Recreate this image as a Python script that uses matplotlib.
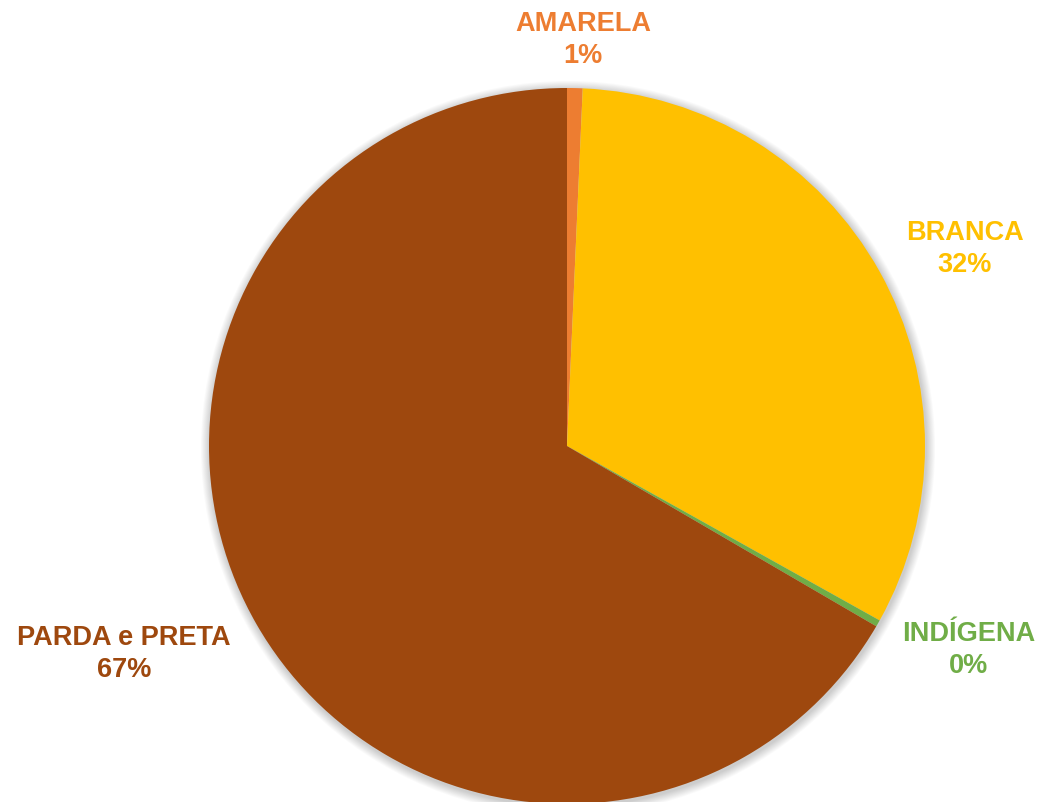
import matplotlib
matplotlib.use("Agg")
import matplotlib.pyplot as plt
from matplotlib.patches import Circle

categories = ["AMARELA", "BRANCA", "INDÍGENA", "PARDA e PRETA"]
shares = [0.7, 32.4, 0.3, 66.6]
colors = ["#ED7D31", "#FFC000", "#70AD47", "#9E480E"]
# label anchor points in pixel space (x, y from top)
label_pos = [(583, 40), (965, 249), (969, 650), (124, 654)]

W, H = 1038, 802
plt.rcParams["font.family"] = ["Liberation Sans", "DejaVu Sans"]
fig = plt.figure(figsize=(W / 100, H / 100), dpi=100)
ax = fig.add_axes([0, 0, 1, 1])

cx, cy, r = 567, H - 446, 358

# soft shadow under the pie
for i in range(10):
    ax.add_patch(Circle((cx + 1, cy - 2), r + 1 + i * 0.9, color="black",
                        alpha=0.018, lw=0, zorder=0))

ax.pie(shares, colors=colors, startangle=90, counterclock=False,
       center=(cx, cy), radius=r, frame=True,
       wedgeprops=dict(linewidth=0, zorder=2))
ax.set_xlim(0, W)
ax.set_ylim(0, H)
ax.set_aspect("equal")
ax.axis("off")

total = sum(shares)
for name, v, col, (lx, ly) in zip(categories, shares, colors, label_pos):
    pct = round(v / total * 100)
    ax.text(lx, H - ly, f"{name}\n{pct}%", ha="center", va="center",
            fontsize=19.5, fontweight="bold", color=col, linespacing=1.3,
            zorder=5)

fig.savefig("out.png", dpi=100, facecolor="white")
